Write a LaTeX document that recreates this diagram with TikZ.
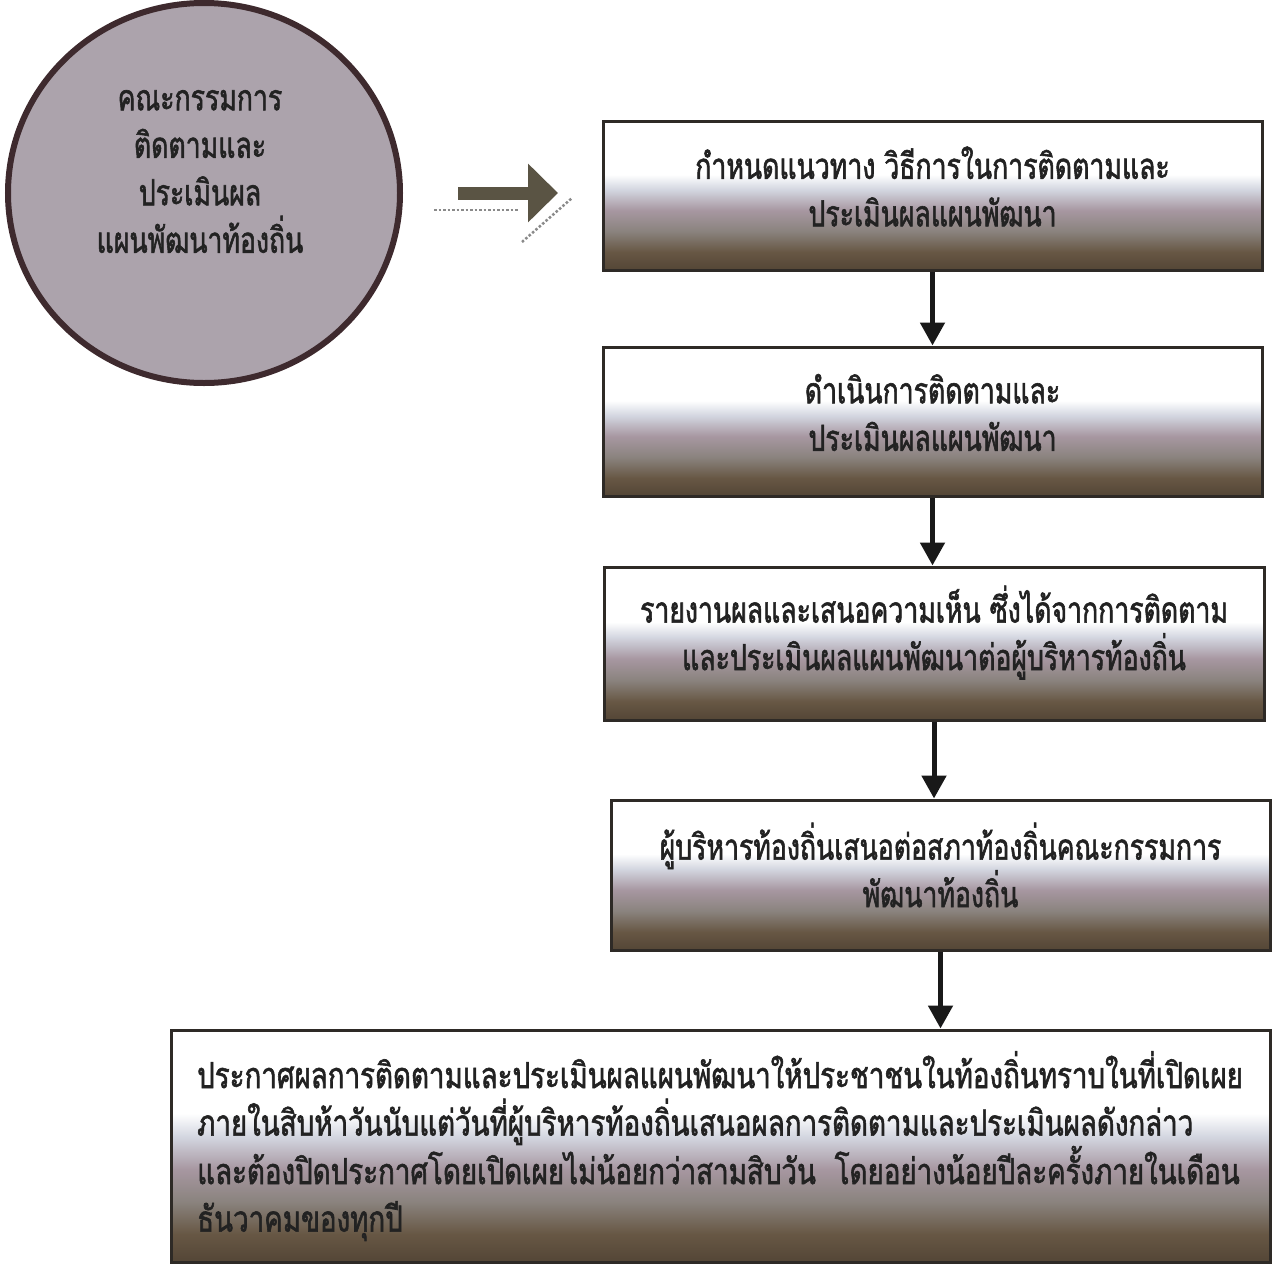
\documentclass[tikz,border=0pt]{standalone}
\usepackage{fontspec}
\newfontfamily\thai[Script=Thai, FakeStretch=0.74, FakeBold=1.6]{Loma}
\newfontfamily\thaiw[Script=Thai, FakeStretch=0.77, FakeBold=1.6]{Loma}
\usetikzlibrary{shapes.geometric,arrows.meta}
\definecolor{bA}{HTML}{4A3D2F}
\definecolor{bB}{HTML}{675744}
\definecolor{bC}{HTML}{8A837E}
\definecolor{bD}{HTML}{A797A1}
\definecolor{bE}{HTML}{D3D6E0}
\definecolor{boxline}{HTML}{2E2A26}
\definecolor{circfill}{HTML}{ACA3AC}
\definecolor{circline}{HTML}{3E2A2E}
\definecolor{txtc}{HTML}{222222}
\definecolor{arrc}{HTML}{5A5444}
\definecolor{shadowc}{HTML}{8A8A8A}
\pgfdeclareverticalshading{boxshade}{100bp}{color(0bp)=(bA); color(22bp)=(bA); color(31bp)=(bB); color(38bp)=(bC); color(45bp)=(bD); color(52bp)=(bE); color(57bp)=(white); color(100bp)=(white)}
\tikzset{
  flowbox/.style={rectangle, draw=boxline, line width=3pt, shading=boxshade, inner sep=0pt},
  thaitxt/.style={font={\thai\fontsize{36pt}{47.5pt}\selectfont}, text=txtc, align=center, inner sep=0pt},
  downarr/.style={draw=black!90, line width=5pt, -{Triangle[length=23pt,width=24pt]}},
}
\begin{document}
\begin{tikzpicture}[x=1pt,y=-1pt]
\useasboundingbox[fill=white] (0,0) rectangle (1276,1264);
% circle
\node[ellipse, draw=circline, fill=circfill, line width=6pt, minimum width=392pt, minimum height=380pt, inner sep=0pt] (circ) at (204,193) {};
\node[thaitxt] (circtxt) at (200,171.5) {คณะกรรมการ\\ติดตามและ\\ประเมินผล\\แผนพัฒนาท้องถิ่น};
% boxes
\node[flowbox, minimum width=659pt, minimum height=149pt] (b1) at (932.5,195.5) {};
\node[thaitxt] (t1) at ([yshift=9pt]b1.center) {กำหนดแนวทาง วิธีการในการติดตามและ\\ประเมินผลแผนพัฒนา};
\node[flowbox, minimum width=659pt, minimum height=149pt] (b2) at (932.5,421.5) {};
\node[thaitxt] (t2) at ([yshift=9pt]b2.center) {ดำเนินการติดตามและ\\ประเมินผลแผนพัฒนา};
\node[flowbox, minimum width=660pt, minimum height=153pt] (b3) at (934,643.5) {};
\node[thaitxt] (t3) at ([yshift=11pt]b3.center) {รายงานผลและเสนอความเห็น ซึ่งได้จากการติดตาม\\และประเมินผลแผนพัฒนาต่อผู้บริหารท้องถิ่น};
\node[flowbox, minimum width=659pt, minimum height=150pt] (b4) at (940.5,875) {};
\node[thaitxt] (t4) at ([yshift=10pt]b4.center) {ผู้บริหารท้องถิ่นเสนอต่อสภาท้องถิ่นคณะกรรมการ\\พัฒนาท้องถิ่น};
\node[flowbox, minimum width=1099pt, minimum height=232pt] (b5) at (720.5,1146) {};
\node[thaitxt, font={\thaiw\fontsize{36pt}{47.5pt}\selectfont}, align=left, anchor=west] (t5) at (197,1146) {ประกาศผลการติดตามและประเมินผลแผนพัฒนาให้ประชาชนในท้องถิ่นทราบในที่เปิดเผย\\ภายในสิบห้าวันนับแต่วันที่ผู้บริหารท้องถิ่นเสนอผลการติดตามและประเมินผลดังกล่าว\\และต้องปิดประกาศโดยเปิดเผยไม่น้อยกว่าสามสิบวัน\ \ โดยอย่างน้อยปีละครั้งภายในเดือน\\ธันวาคมของทุกปี};
% horizontal arrow
\coordinate (hs) at (458,193);
\coordinate (he) at (558,193);
\draw[draw=arrc, line width=13pt, -{Triangle[length=30pt,width=57pt]}] (hs) -- (he);
\coordinate (sh1) at (434,210);
\coordinate (sh2) at (519,210);
\coordinate (sh3) at (522,242);
\coordinate (sh4) at (572,198);
\draw[shadowc, line width=2.5pt, dotted] (sh1) -- (sh2);
\draw[shadowc, line width=2.5pt, dotted] (sh3) -- (sh4);
% vertical arrows
\draw[downarr] (b1.south) -- (b2.north);
\draw[downarr] (b2.south) -- (b2.south |- b3.north);
\draw[downarr] (b3.south) -- (b3.south |- b4.north);
\draw[downarr] (b4.south) -- (b4.south |- b5.north);
\end{tikzpicture}
\end{document}
